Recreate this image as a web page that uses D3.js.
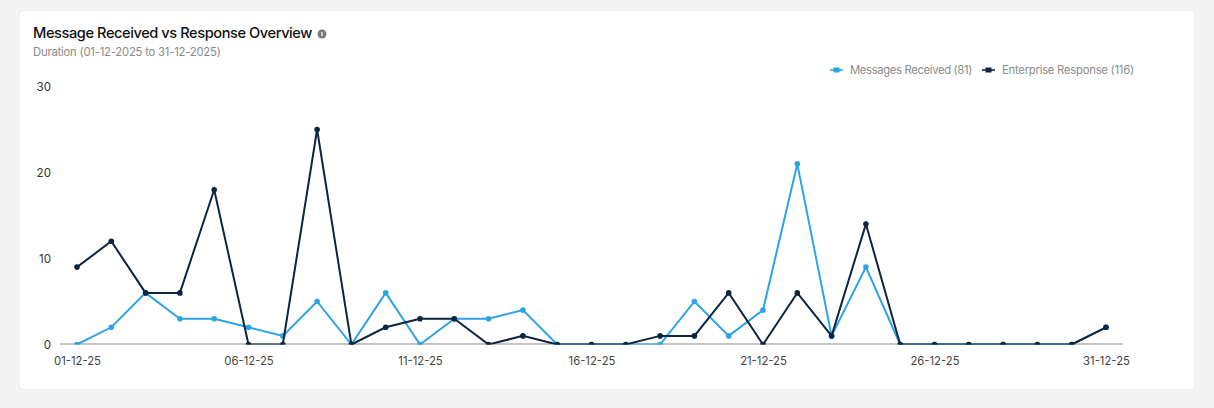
<!DOCTYPE html>
<html>
<head>
<meta charset="utf-8">
<script src="https://cdn.jsdelivr.net/npm/d3@7/dist/d3.min.js"></script>
<style>
  html, body { margin: 0; padding: 0; background: #f4f4f4; }
  svg { display: block; }
  text { font-family: "Inter", "Noto Sans", sans-serif; }
</style>
</head>
<body>
<svg id="chart" width="1214" height="408"></svg>
<script>
const titleText = "Message Received vs Response Overview";
const subtitleText = "Duration (01-12-2025 to 31-12-2025)";
const dates = ["01-12-25","02-12-25","03-12-25","04-12-25","05-12-25","06-12-25","07-12-25","08-12-25","09-12-25","10-12-25","11-12-25","12-12-25","13-12-25","14-12-25","15-12-25","16-12-25","17-12-25","18-12-25","19-12-25","20-12-25","21-12-25","22-12-25","23-12-25","24-12-25","25-12-25","26-12-25","27-12-25","28-12-25","29-12-25","30-12-25","31-12-25"];
const messagesReceived = [0,2,6,3,3,2,1,5,0,6,0,3,3,4,0,0,0,0,5,1,4,21,1,9,0,0,0,0,0,0,2];
const enterpriseResponse = [9,12,6,6,18,0,0,25,0,2,3,3,0,1,0,0,0,1,1,6,0,6,1,14,0,0,0,0,0,0,2];
const yTicks = [0,10,20,30];
const xTicks = ["01-12-25","06-12-25","11-12-25","16-12-25","21-12-25","26-12-25","31-12-25"];
const seriesNames = ["Messages Received (81)","Enterprise Response (116)"];
const seriesColors = ["#2ea3e6","#0c2540"];
const legendSpacing = [-0.36,-0.25];

const svg = d3.select("#chart");

// Card
svg.append("rect").attr("x",19).attr("y",10.5).attr("width",1176).attr("height",379)
  .attr("rx",4).attr("fill","#fff").attr("stroke","#ececec");

// Heading block
svg.append("text").attr("x",33).attr("y",38).attr("font-size",14.6).attr("font-weight",500)
  .attr("letter-spacing",-0.42).attr("fill","#111").text(titleText);
const info = svg.append("g").attr("transform","translate(322,34)");
info.append("circle").attr("r",4.5).attr("fill","#7a7a7a");
info.append("rect").attr("x",-0.8).attr("y",-2).attr("width",1.6).attr("height",4).attr("fill","#ddd");
svg.append("text").attr("x",33).attr("y",55.5).attr("font-size",11.3).attr("letter-spacing",-0.22)
  .attr("fill","#8a8a8a").text(subtitleText);

// Scales
const x = d3.scalePoint().domain(dates).range([77,1106]);
const y = d3.scaleLinear().domain([0,30]).range([344.5,86.5]);

// Axes
const xAxis = d3.axisBottom(x).tickValues(xTicks).tickSize(0).tickPadding(13);
const gx = svg.append("g").attr("transform","translate(0,344)").call(xAxis);
gx.select(".domain").remove();
gx.selectAll("text").attr("font-size",11.3).attr("fill","#444");

const yAxis = d3.axisLeft(y).tickValues(yTicks).tickSize(0).tickPadding(0);
const gy = svg.append("g").attr("transform","translate(51,0)").call(yAxis);
gy.select(".domain").remove();
gy.selectAll("text").attr("font-size",11.6).attr("fill","#333");

// Series, clipped at the zero line so baseline markers show as half dots
svg.append("defs").append("clipPath").attr("id","plot")
  .append("rect").attr("x",60).attr("y",70).attr("width",1063).attr("height",274.5);

svg.append("line").attr("x1",60).attr("x2",1123).attr("y1",344).attr("y2",344)
  .attr("stroke","#b0b0b0").attr("stroke-width",1.5);

const line = d3.line().x((d,i) => x(dates[i])).y(d => y(d));
const plot = svg.append("g").attr("clip-path","url(#plot)");
[messagesReceived, enterpriseResponse].forEach((values, s) => {
  plot.append("path").attr("d",line(values)).attr("fill","none")
    .attr("stroke",seriesColors[s]).attr("stroke-width",2).attr("stroke-linejoin","miter");
  plot.selectAll(null).data(values).enter().append("circle")
    .attr("cx",(d,i) => x(dates[i])).attr("cy",d => y(d)).attr("r",2.8)
    .attr("fill",seriesColors[s]);
});

// Legend
const legendX = [830,982];
seriesNames.forEach((name, s) => {
  const g = svg.append("g").attr("transform",`translate(${legendX[s]},70)`);
  g.append("line").attr("x1",0).attr("x2",13).attr("stroke",seriesColors[s]).attr("stroke-width",1.6);
  g.append("rect").attr("x",3.5).attr("y",-2.5).attr("width",6).attr("height",5).attr("fill",seriesColors[s]);
  g.append("text").attr("x",20).attr("y",4).attr("font-size",11.3).attr("letter-spacing",legendSpacing[s])
    .attr("fill","#8c8c8c").text(name);
});
</script>
</body>
</html>
